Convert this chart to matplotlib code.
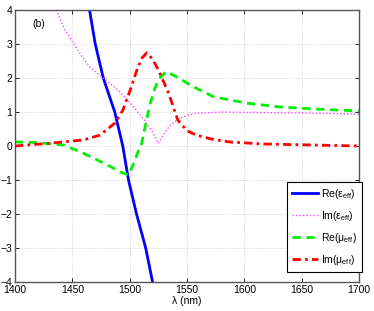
import matplotlib
matplotlib.use("Agg")
import matplotlib.pyplot as plt

plt.rcParams['font.family'] = ['Liberation Sans', 'DejaVu Sans']
plt.rcParams['mathtext.fontset'] = 'custom'
plt.rcParams['mathtext.rm'] = 'Liberation Sans'
plt.rcParams['mathtext.it'] = 'Liberation Sans'

# Re(eps_eff)
re_eps_x = [1465, 1470, 1477, 1487, 1494, 1499, 1506, 1514, 1520]
re_eps_y = [4, 3.0, 2.0, 1.0, 0.0, -1.0, -2.0, -3.0, -4.0]

# Im(eps_eff)
im_eps_x = [1436, 1443, 1451, 1458, 1465, 1477, 1487, 1497, 1506, 1515, 1520,
            1525, 1530, 1535, 1541, 1550, 1558, 1580, 1600, 1650, 1700]
im_eps_y = [4.0, 3.45, 3.02, 2.65, 2.33, 1.99, 1.73, 1.4, 1.05, 0.67, 0.4,
            0.08, 0.35, 0.6, 0.76, 0.9, 0.96, 1.0, 0.99, 0.97, 0.94]

# Re(mu_eff)
re_mu_x = [1400, 1420, 1442, 1457, 1470, 1483, 1493, 1499, 1503, 1507, 1510.5,
           1514, 1518, 1522, 1526, 1532, 1540, 1550, 1558, 1573, 1602, 1631,
           1660, 1700]
re_mu_y = [0.12, 0.1, 0.03, -0.17, -0.38, -0.6, -0.78, -0.85, -0.55, -0.2, 0.08,
           0.65, 1.26, 1.7, 1.99, 2.19, 2.05, 1.85, 1.7, 1.45, 1.26, 1.15,
           1.09, 1.03]

# Im(mu_eff)
im_mu_x = [1400, 1430, 1460, 1474, 1487, 1494, 1500, 1507, 1511, 1515, 1520,
           1525, 1534, 1542, 1550, 1558, 1572, 1587, 1616, 1660, 1700]
im_mu_y = [0.0, 0.08, 0.18, 0.32, 0.67, 1.05, 1.6, 2.3, 2.6, 2.74, 2.55,
           2.24, 1.55, 0.76, 0.45, 0.32, 0.2, 0.12, 0.06, 0.03, 0.0]

xticks = [1400, 1450, 1500, 1550, 1600, 1650, 1700]
yticks = [-4, -3, -2, -1, 0, 1, 2, 3, 4]

fig = plt.figure(figsize=(3.74, 3.11), dpi=100)
ax = fig.add_axes([0.040, 0.093, 0.920, 0.875])

ax.plot(re_eps_x, re_eps_y, color='#0000ff', lw=2.0, ls='-',
        label=r'Re($\epsilon_{\rm eff}$)')
ax.plot(im_eps_x, im_eps_y, color='#ff44ff', lw=1.0, ls=(0, (1, 1.5)),
        label=r'Im($\epsilon_{\rm eff}$)')
ax.plot(re_mu_x, re_mu_y, color='#00ee00', lw=2.0, ls=(0, (3, 2)),
        label=r'Re($\mu_{\rm eff}$)')
ax.plot(im_mu_x, im_mu_y, color='#ff0000', lw=2.0, ls=(0, (3, 1.5, 1, 1.5)),
        label=r'Im($\mu_{\rm eff}$)')

ax.set_xlim(1400, 1700)
ax.set_ylim(-4, 4)
ax.set_xticks(xticks)
ax.set_yticks(yticks)
ax.tick_params(direction='in', top=True, right=True, labelsize=7.5,
               length=3, width=0.6, pad=2)
ax.grid(True, ls=':', color='#c8c8c8', lw=0.6)
for s in ax.spines.values():
    s.set_color('#555555')
    s.set_linewidth(1.0)

ax.set_xlabel('λ (nm)', fontsize=7.5, labelpad=1)
ax.text(1415, 3.5, '(b)', fontsize=7.5)

leg = ax.legend(loc='upper right', bbox_to_anchor=(1.009, 0.368),
                borderaxespad=0, fontsize=7.5, handlelength=2.5,
                fancybox=False, framealpha=1, edgecolor='black',
                labelspacing=0.75, handletextpad=0.3, borderpad=0.5)
leg.get_frame().set_linewidth(0.8)

fig.savefig('out.png', dpi=100)
